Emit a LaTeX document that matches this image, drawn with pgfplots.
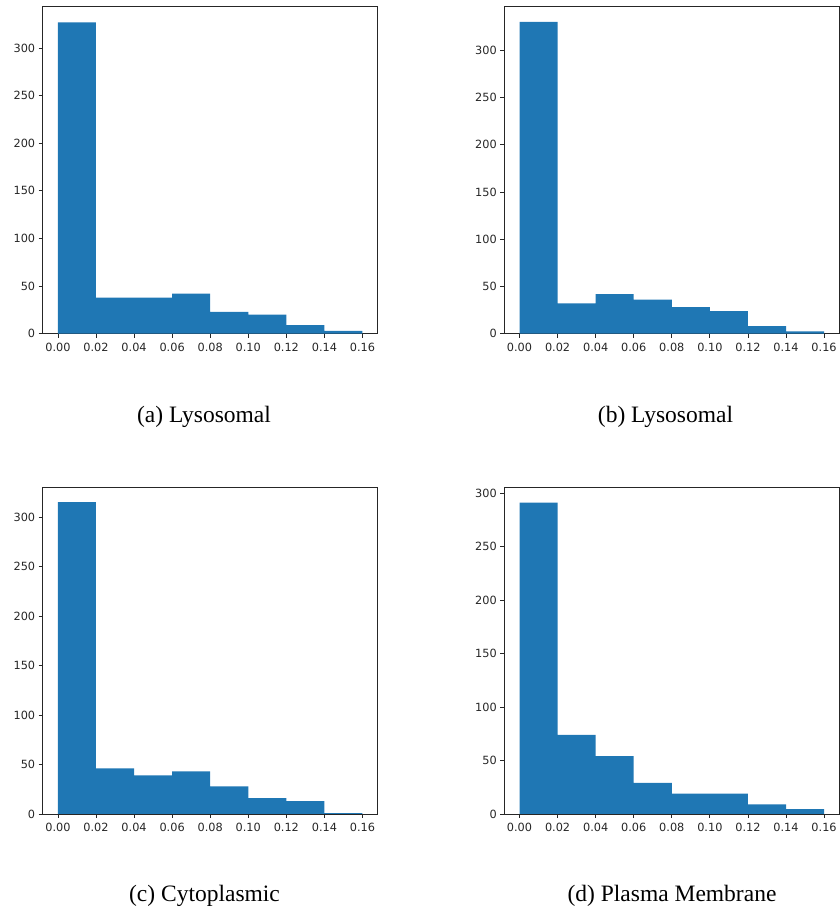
\documentclass[border=0pt]{standalone}
\usepackage{fontspec}
\setmainfont{Liberation Serif}
\newfontfamily\dejavu{DejaVu Sans}
\usepackage{pgfplots}
\pgfplotsset{compat=1.18}
\definecolor{mplblue}{HTML}{1F77B4}
\definecolor{tickgray}{HTML}{262626}
\pgfplotsset{
  histax/.style={
    scale only axis, width=335pt, height=327pt,
    anchor=south west,
    xmin=-0.008, xmax=0.168, ymin=0,
    xtick={0,0.02,...,0.16},
    xticklabels={0.00,0.02,0.04,0.06,0.08,0.10,0.12,0.14,0.16},
    ytick={0,50,100,150,200,250,300},
    tick align=outside, tick pos=left,
    major tick length=4pt,
    every tick/.style={tickgray, line width=0.8pt},
    axis line style={tickgray, line width=0.8pt},
    tick label style={font=\dejavu\fontsize{11.3}{13}\selectfont, text=tickgray},
    /pgf/number format/assume math mode=true,
    yticklabel style={/pgf/number format/fixed},
    xticklabel style={yshift=-2pt},
  },
  histbar/.style={ybar interval, fill=mplblue, draw=none},
}
\begin{document}
\begin{tikzpicture}[x=1pt,y=1pt]
\useasboundingbox (0,0) rectangle (840,911);
% (a)
\begin{axis}[histax, at={(42.7pt,577.3pt)}, ymax=343.4]
\addplot[histbar] coordinates {(0,327) (0.02,38) (0.04,38) (0.06,42) (0.08,23) (0.10,20) (0.12,9) (0.14,3) (0.16,3)};
\end{axis}
% (b)
\begin{axis}[histax, at={(504.3pt,577.3pt)}, ymax=346.1]
\addplot[histbar] coordinates {(0,330) (0.02,32) (0.04,42) (0.06,36) (0.08,28) (0.10,24) (0.12,8) (0.14,2.5) (0.16,2.5)};
\end{axis}
% (c)
\begin{axis}[histax, at={(42.7pt,97pt)}, ymax=330.3]
\addplot[histbar] coordinates {(0,315) (0.02,46) (0.04,39) (0.06,43) (0.08,28) (0.10,16) (0.12,13) (0.14,1) (0.16,1)};
\end{axis}
% (d)
\begin{axis}[histax, at={(504.3pt,97pt)}, ymax=305.6]
\addplot[histbar] coordinates {(0,291) (0.02,74) (0.04,54) (0.06,29) (0.08,19) (0.10,19) (0.12,9) (0.14,4.5) (0.16,4.5)};
\end{axis}
\node[font=\fontsize{23.5}{27}\selectfont] at (204,494.5) {(a) Lysosomal};
\node[font=\fontsize{23.5}{27}\selectfont] at (665.5,494.5) {(b) Lysosomal};
\node[font=\fontsize{23.5}{27}\selectfont] at (204.5,15) {(c) Cytoplasmic};
\node[font=\fontsize{23.5}{27}\selectfont] at (672,15) {(d) Plasma Membrane};
\end{tikzpicture}
\end{document}
